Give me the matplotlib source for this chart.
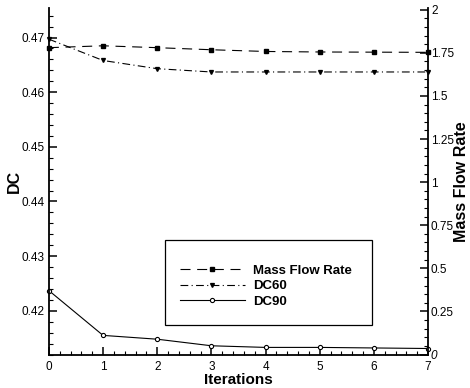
import matplotlib
matplotlib.use("Agg")
import matplotlib.pyplot as plt
from matplotlib.ticker import MultipleLocator, FormatStrFormatter, FuncFormatter
from matplotlib.patches import Rectangle

# values
iterations = [0, 1, 2, 3, 4, 5, 6, 7]
mass_flow = [1.780, 1.791, 1.780, 1.768, 1.758, 1.755, 1.754, 1.753]
dc60 = [0.4697, 0.4658, 0.4643, 0.4637, 0.4637, 0.4637, 0.4637, 0.4637]
dc90 = [0.4237, 0.4155, 0.4148, 0.4136, 0.4133, 0.4133, 0.4132, 0.4131]

plt.rcParams['font.family'] = ['Liberation Sans', 'DejaVu Sans']

fig = plt.figure(figsize=(4.7, 3.88), dpi=100)
ax = fig.add_axes([0.104, 0.0863, 0.807, 0.893])
ax2 = ax.twinx()

lw = 0.8
l_mfr, = ax2.plot(iterations, mass_flow, color='black', lw=lw, ls=(0, (9, 6)),
                  marker='s', ms=2.2, mfc='black', clip_on=False, label='Mass Flow Rate')
l_60, = ax.plot(iterations, dc60, color='black', lw=lw, ls=(0, (7, 3, 1, 3)),
                marker='v', ms=2.8, mfc='black', clip_on=False, label='DC60')
l_90, = ax.plot(iterations, dc90, color='black', lw=lw, ls='-',
                marker='o', ms=3.0, mfc='white', mew=0.8, clip_on=False, label='DC90')

# axes ranges
ax.set_xlim(0, 7)
ax.set_ylim(0.412, 0.4754)
ax2.set_ylim(0, 2.01)

for a in (ax, ax2):
    a.spines['top'].set_visible(False)
    for s in a.spines.values():
        s.set_linewidth(1.3)
ax.spines['right'].set_visible(False)
ax2.spines['left'].set_visible(False)
ax2.spines['bottom'].set_visible(False)

ax.xaxis.set_major_locator(MultipleLocator(1))
ax.xaxis.set_minor_locator(MultipleLocator(0.2))
ax.yaxis.set_major_locator(MultipleLocator(0.01))
ax.yaxis.set_minor_locator(MultipleLocator(0.002))
ax.yaxis.set_major_formatter(FormatStrFormatter('%.2f'))
ax2.yaxis.set_major_locator(MultipleLocator(0.25))
ax2.yaxis.set_minor_locator(MultipleLocator(0.05))
ax2.yaxis.set_major_formatter(FuncFormatter(lambda v, p: '%g' % v))

ax.tick_params(axis='both', which='major', direction='in', length=6, width=1.1,
               labelsize=8.5, colors='black')
ax.tick_params(axis='both', which='minor', direction='in', length=3, width=0.8)
ax.tick_params(axis='x', pad=5)
ax.tick_params(axis='y', pad=3)
ax2.tick_params(axis='y', which='major', direction='in', length=6, width=1.1,
                labelsize=8.5, pad=2)
ax2.tick_params(axis='y', which='minor', direction='in', length=3, width=0.8)

ax.set_xlabel('Iterations', fontsize=11, fontweight='bold', labelpad=0)
ax.set_ylabel('DC', fontsize=11.5, fontweight='bold', labelpad=0)
ax2.set_ylabel('Mass Flow Rate', fontsize=11.5, fontweight='bold', labelpad=0)

# the right-hand zero is set in italics in the original
fig.canvas.draw()
for t in ax2.get_yticklabels():
    if t.get_text() == '0':
        t.set_style('italic')

# legend box drawn as a plain rectangle, entries placed inside it
ax.add_patch(Rectangle((0.306, 0.085), 0.546, 0.245, transform=ax.transAxes,
                       fill=True, facecolor='white', edgecolor='black', lw=0.9, zorder=4))
leg = ax.legend([l_mfr, l_60, l_90], ['Mass Flow Rate', 'DC60', 'DC90'],
                loc='center left', bbox_to_anchor=(0.327, 0.197), frameon=False,
                handlelength=5.0, handletextpad=0.6, labelspacing=0.25,
                borderpad=0, numpoints=1, prop={'size': 9.5, 'weight': 'bold'})
leg.set_zorder(5)

fig.savefig('out.png', dpi=100)
